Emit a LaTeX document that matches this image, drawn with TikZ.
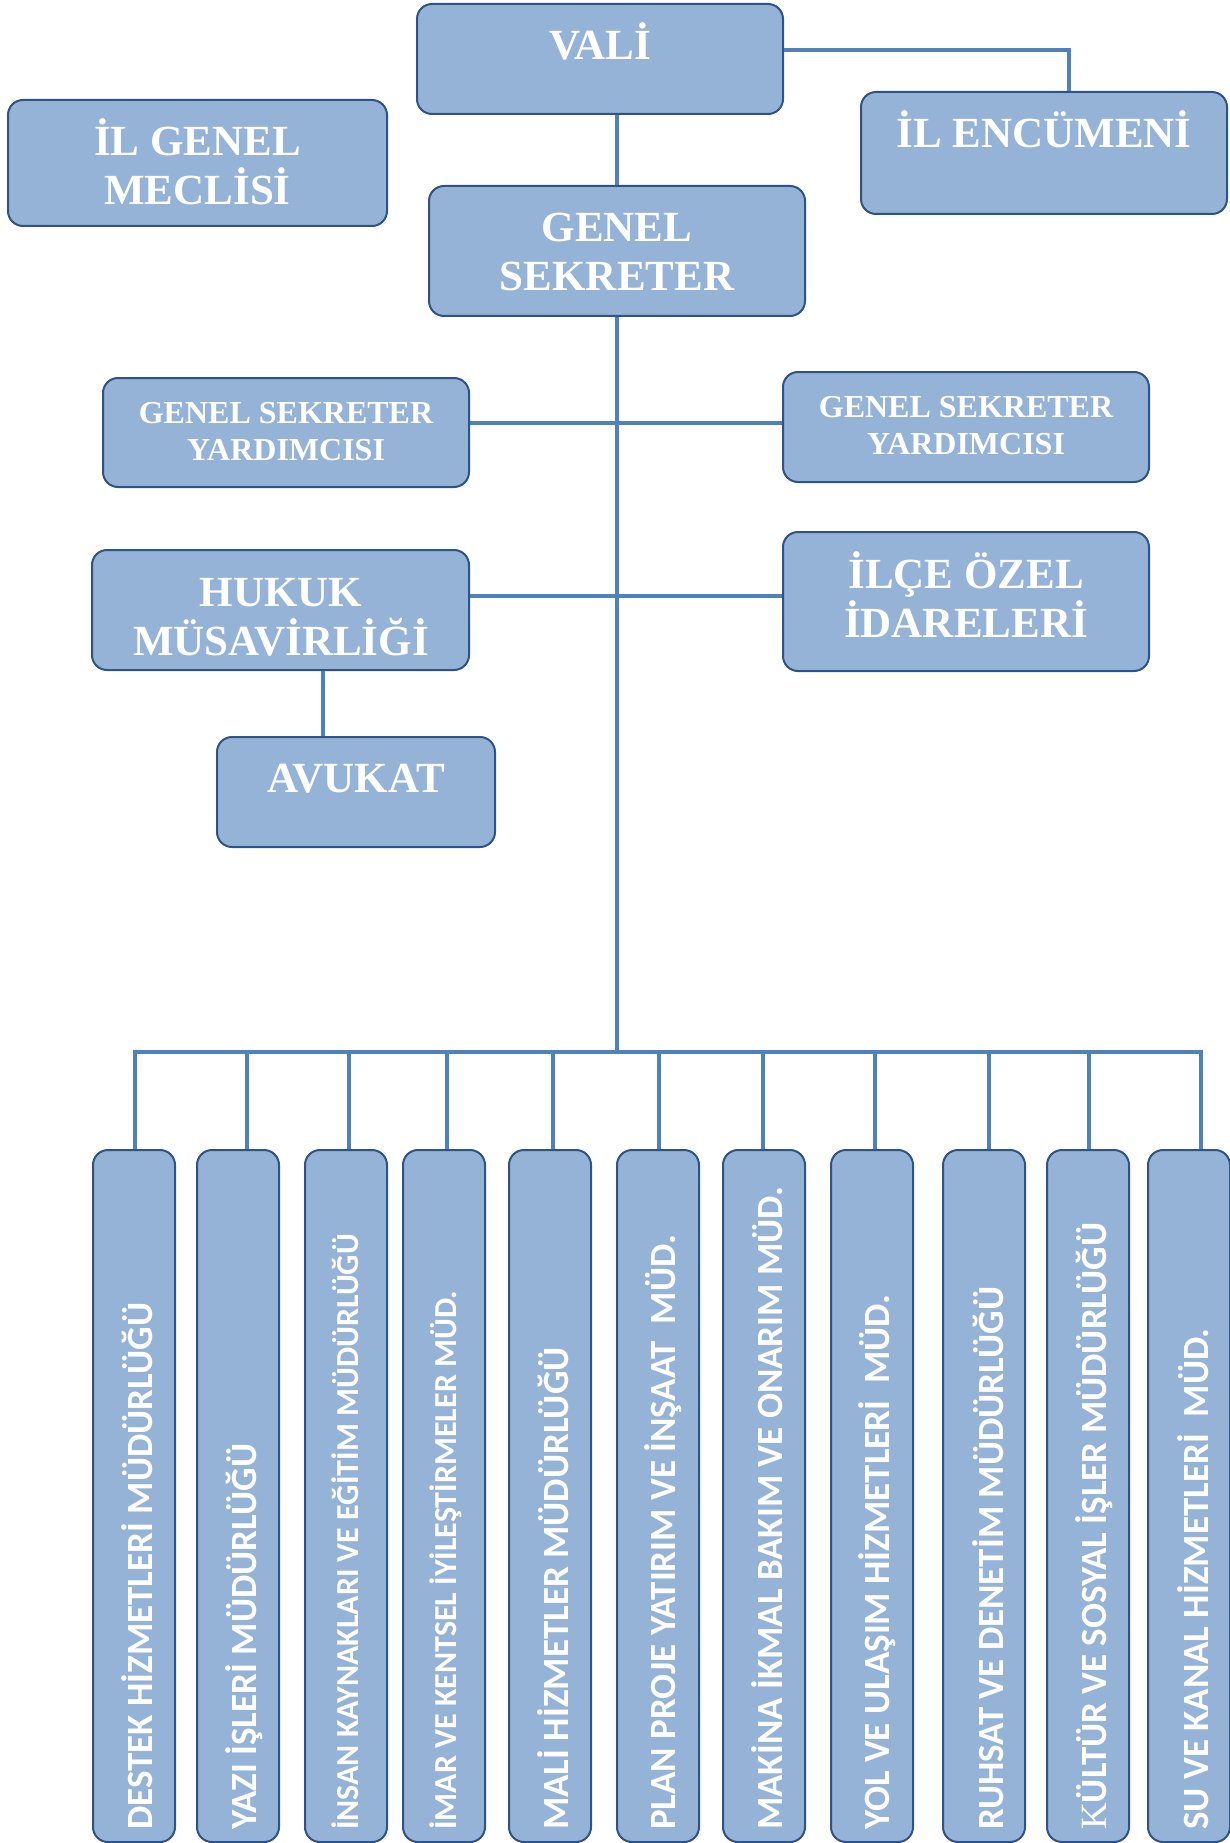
\documentclass[tikz,border=0pt]{standalone}
\usepackage{fontspec}
\setmainfont{Liberation Serif}
\newfontfamily\calfont{Carlito}
\usepackage{tikz}

\definecolor{boxfill}{HTML}{95B3D7}
\definecolor{boxline}{HTML}{2E5389}
\definecolor{linkblue}{HTML}{4F81BD}

\begin{document}
\begin{tikzpicture}
            [x=1pt, y=-1pt, every node/.style={inner sep=0pt},
             unitbox/.style={rectangle, rounded corners=15pt, draw=boxline, line width=2pt, fill=boxfill},
             boxtext/.style={text=white, font=\bfseries\fontsize{43}{49}\selectfont, align=center, anchor=base},
             boxtextsmall/.style={boxtext, font=\bfseries\fontsize{32}{37}\selectfont},
             vertext/.style={text=white, font=\calfont\bfseries\fontsize{37}{44}\selectfont, rotate=90, anchor=base west},
             vertextsmall/.style={vertext, font=\calfont\bfseries\fontsize{32}{38}\selectfont},
             link/.style={draw=linkblue, line width=4.5pt}]
                \useasboundingbox (0,0) rectangle (1230,1843);
                % upper part
                \node (vali) [unitbox, minimum width=366pt, minimum height=110pt] at (600, 59) {};
                \node (meclis) [unitbox, minimum width=379pt, minimum height=126pt] at (197.5, 163) {};
                \node (encumen) [unitbox, minimum width=366pt, minimum height=122pt] at (1044, 153) {};
                \node (gensek) [unitbox, minimum width=376pt, minimum height=130pt] at (617, 251) {};
                \node (gsyL) [unitbox, minimum width=366pt, minimum height=109pt] at (286, 432.5) {};
                \node (gsyR) [unitbox, minimum width=366pt, minimum height=110pt] at (966, 427) {};
                \node (hukuk) [unitbox, minimum width=377pt, minimum height=120pt] at (280.5, 610) {};
                \node (ilce) [unitbox, minimum width=366pt, minimum height=139pt] at (966, 601.5) {};
                \node (avukat) [unitbox, minimum width=278pt, minimum height=110pt] at (356, 792) {};
                \node (valitext) [boxtext] at (600, 60) {VALİ};
                \node (meclistext) [boxtext] at (197.5, 205) {İL GENEL\\MECLİSİ};
                \node (encumentext) [boxtext] at (1044, 148) {İL ENCÜMENİ};
                \node (gensektext) [boxtext] at (617, 291) {GENEL\\SEKRETER};
                \node (gsyLtext) [boxtextsmall] at (286, 460) {GENEL SEKRETER\\YARDIMCISI};
                \node (gsyRtext) [boxtextsmall] at (966, 454) {GENEL SEKRETER\\YARDIMCISI};
                \node (hukuktext) [boxtext] at (281, 655) {HUKUK\\MÜSAVİRLİĞİ};
                \node (ilcetext) [boxtext] at (966, 637) {İLÇE ÖZEL\\İDARELERİ};
                \node (avukattext) [boxtext] at (356, 792) {AVUKAT};
                % directorates
                \node (m1) [unitbox, minimum width=82pt, minimum height=692pt] at (134, 1496) {};
                \node (m2) [unitbox, minimum width=82pt, minimum height=692pt] at (238, 1496) {};
                \node (m3) [unitbox, minimum width=82pt, minimum height=692pt] at (346, 1496) {};
                \node (m4) [unitbox, minimum width=82pt, minimum height=692pt] at (444, 1496) {};
                \node (m5) [unitbox, minimum width=82pt, minimum height=692pt] at (550, 1496) {};
                \node (m6) [unitbox, minimum width=82pt, minimum height=692pt] at (658, 1496) {};
                \node (m7) [unitbox, minimum width=82pt, minimum height=692pt] at (764, 1496) {};
                \node (m8) [unitbox, minimum width=82pt, minimum height=692pt] at (872, 1496) {};
                \node (m9) [unitbox, minimum width=82pt, minimum height=692pt] at (984, 1496) {};
                \node (m10) [unitbox, minimum width=82pt, minimum height=692pt] at (1088, 1496) {};
                \node (m11) [unitbox, minimum width=82pt, minimum height=692pt] at (1189, 1496) {};
                \node (t1) [vertext] at (152, 1830) {DESTEK HİZMETLERİ MÜDÜRLÜĞÜ};
                \node (t2) [vertext] at (256, 1830) {YAZI İŞLERİ MÜDÜRLÜĞÜ};
                \node (t3) [vertextsmall] at (358, 1830) {İNSAN KAYNAKLARI VE EĞİTİM MÜDÜRLÜĞÜ};
                \node (t4) [vertextsmall] at (456, 1830) {İMAR VE KENTSEL İYİLEŞTİRMELER MÜD.};
                \node (t5) [vertext] at (568, 1830) {MALİ HİZMETLER MÜDÜRLÜĞÜ};
                \node (t6) [vertext] at (675, 1830) {PLAN PROJE YATIRIM VE İNŞAAT~ MÜD.};
                \node (t7) [vertext] at (782, 1830) {MAKİNA İKMAL BAKIM VE ONARIM MÜD.};
                \node (t8) [vertext] at (889, 1830) {YOL VE ULAŞIM HİZMETLERİ~ MÜD.};
                \node (t9) [vertext] at (1003, 1830) {RUHSAT VE DENETİM MÜDÜRLÜĞÜ};
                \node (t10) [vertext] at (1106, 1830) {{\normalfont\mdseries K}ÜLTÜR VE SOSYAL İŞLER MÜDÜRLÜĞÜ};
                \node (t11) [vertext] at (1208, 1830) {SU VE KANAL HİZMETLERİ~ MÜD.};
                \coordinate (bus) at (617, 1052);
                % connectors
                \draw [link] ([yshift=9pt]vali.east) -| ([xshift=25pt]encumen.north);
                \draw [link] (gensek.north |- vali.south) -- (gensek.north);
                \draw [link] (gensek.south) -- (bus);
                \draw [link] ([yshift=9.5pt]gsyL.east) -- ([yshift=4pt]gsyR.west);
                \draw [link] ([yshift=14pt]hukuk.east) -- ([yshift=5.5pt]ilce.west);
                \draw [link] ([xshift=42.5pt]hukuk.south) -- ([xshift=-33pt]avukat.north);
                \draw [link] ([xshift=1pt]m1.north) |- (bus) -| ([xshift=12pt]m11.north);
                \draw [link] ([xshift=9pt]m2.north) -- ++(0,-98);
                \draw [link] ([xshift=3pt]m3.north) -- ++(0,-98);
                \draw [link] ([xshift=3pt]m4.north) -- ++(0,-98);
                \draw [link] ([xshift=3pt]m5.north) -- ++(0,-98);
                \draw [link] ([xshift=1pt]m6.north) -- ++(0,-98);
                \draw [link] ([xshift=-1pt]m7.north) -- ++(0,-98);
                \draw [link] ([xshift=3pt]m8.north) -- ++(0,-98);
                \draw [link] ([xshift=5pt]m9.north) -- ++(0,-98);
                \draw [link] ([xshift=1pt]m10.north) -- ++(0,-98);
            \end{tikzpicture}
\end{document}
